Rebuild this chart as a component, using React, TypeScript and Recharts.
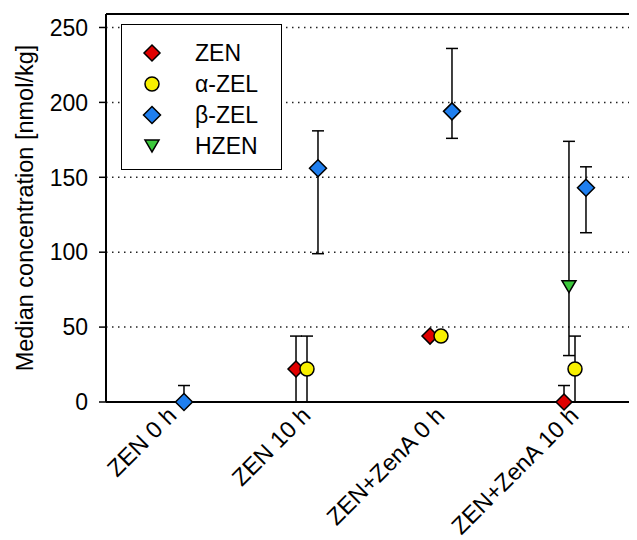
import React from "react";
import {
    ScatterChart,
    Scatter,
    XAxis,
    YAxis,
    CartesianGrid,
    ErrorBar,
    Legend,
    ReferenceLine,
    Label,
} from "recharts";

const categories = ["ZEN 0 h", "ZEN 10 h", "ZEN+ZenA 0 h", "ZEN+ZenA 10 h"];
const yTicks = [0, 50, 100, 150, 200, 250];

// medians and the low / high end of each error bar, nmol/kg
const zenMedian = [null, 22, 44, 0];
const zenLow = [null, 0, 44, 0];
const zenHigh = [null, 44, 44, 11];

const alphaZelMedian = [null, 22, 44, 22];
const alphaZelLow = [null, 0, 44, 0];
const alphaZelHigh = [null, 44, 44, 44];

const betaZelMedian = [0, 156, 194, 143];
const betaZelLow = [0, 99, 176, 113];
const betaZelHigh = [11, 181, 236, 157];

const hzenMedian = [null, null, null, 77];
const hzenLow = [null, null, null, 31];
const hzenHigh = [null, null, null, 174];

const FONT = "'Liberation Sans', Arial, sans-serif";

const toPoints = (median: (number | null)[], low: (number | null)[], high: (number | null)[], offset: number) =>
    median
        .map((v, i) =>
            v == null
                ? null
                : { x: i + offset, y: v, err: [v - (low[i] as number), (high[i] as number) - v] }
        )
        .filter(Boolean);

const diamond = (r: number) => (props: any) => {
    const { cx, cy, fill } = props;
    return (
        <path
            d={`M${cx},${cy - r}L${cx + r},${cy}L${cx},${cy + r}L${cx - r},${cy}Z`}
            fill={fill}
            stroke="#000"
            strokeWidth={1.5}
        />
    );
};

const circle = (r: number) => (props: any) => (
    <circle cx={props.cx} cy={props.cy} r={r} fill={props.fill} stroke="#000" strokeWidth={1.5} />
);

const triangleDown = (w: number) => (props: any) => {
    const { cx, cy, fill } = props;
    const h = w * 0.85;
    return (
        <path
            d={`M${cx - w / 2},${cy - h / 2}L${cx + w / 2},${cy - h / 2}L${cx},${cy + h / 2}Z`}
            fill={fill}
            stroke="#000"
            strokeWidth={1.5}
        />
    );
};

const series = [
    { name: "ZEN", color: "#e00000", shape: diamond(8), data: toPoints(zenMedian, zenLow, zenHigh, -0.082) },
    { name: "\u03b1-ZEL", color: "#f8f000", shape: circle(7), data: toPoints(alphaZelMedian, alphaZelLow, alphaZelHigh, 0) },
    { name: "\u03b2-ZEL", color: "#1f7fef", shape: diamond(8.5), data: toPoints(betaZelMedian, betaZelLow, betaZelHigh, 0.082) },
    { name: "HZEN", color: "#3cc83c", shape: triangleDown(14), data: toPoints(hzenMedian, hzenLow, hzenHigh, -0.045) },
];

const LegendBox = () => (
    <div style={{ width: 161, height: 146, border: "1px solid #000", background: "#fff", boxSizing: "border-box" }}>
        <svg width={159} height={144}>
            {series.map((s, i) => {
                const cy = 28 + i * 31;
                return (
                    <g key={s.name}>
                        {s.shape({ cx: 30, cy, fill: s.color })}
                        <text x={73} y={cy + 8} fontSize={23} fontFamily={FONT} fill="#000">
                            {s.name}
                        </text>
                    </g>
                );
            })}
        </svg>
    </div>
);

const CategoryTick = (props: any) => {
    const { x, y, payload } = props;
    const tx = x + 5;
    const ty = y + 15;
    return (
        <text
            x={tx}
            y={ty}
            transform={`rotate(-45, ${tx}, ${ty})`}
            textAnchor="end"
            fontSize={23.5}
            fontFamily={FONT}
            fill="#000"
        >
            {categories[payload.value]}
        </text>
    );
};

const ValueTick = (props: any) => {
    const { y, payload } = props;
    return (
        <text x={88} y={y} dy="0.36em" textAnchor="end" fontSize={23} fontFamily={FONT} fill="#000">
            {payload.value}
        </text>
    );
};

export default function App() {
    return (
        <div style={{ width: 637, height: 540, overflow: "hidden", margin: "-8px 0 0 -8px", fontFamily: FONT }}>
            <ScatterChart width={646} height={540} margin={{ top: 14, right: 4, bottom: 0, left: 46 }}>
                <CartesianGrid
                    vertical={false}
                    stroke="#222"
                    strokeWidth={1.5}
                    strokeDasharray="1.5 4.5"
                />
                <XAxis
                    type="number"
                    dataKey="x"
                    domain={[-0.5, 3.5]}
                    ticks={[0, 1, 2, 3]}
                    height={138}
                    axisLine={{ stroke: "#000", strokeWidth: 2 }}
                    tickLine={false}
                    tickSize={0}
                    tickMargin={0}
                    tick={<CategoryTick />}
                    interval={0}
                />
                <YAxis
                    type="number"
                    dataKey="y"
                    domain={[0, 259]}
                    ticks={yTicks}
                    width={60}
                    axisLine={{ stroke: "#000", strokeWidth: 2 }}
                    tickLine={{ stroke: "#000", strokeWidth: 1.5 }}
                    tickSize={7}
                    tick={<ValueTick />}
                    interval={0}
                >
                    <Label
                        content={() => (
                            <text
                                x={33}
                                y={208}
                                transform="rotate(-90, 33, 208)"
                                textAnchor="middle"
                                fontSize={23.5}
                                fontFamily={FONT}
                                fill="#000"
                            >
                                Median concentration [nmol/kg]
                            </text>
                        )}
                    />
                </YAxis>
                <ReferenceLine y={259} stroke="#000" strokeWidth={2} />
                <Legend
                    layout="horizontal"
                    verticalAlign="middle"
                    align="center"
                    content={() => <LegendBox />}
                    wrapperStyle={{ left: 121, top: 24, width: 161, height: 146 }}
                />
                {series.map((s) => (
                    <Scatter
                        key={s.name}
                        name={s.name}
                        data={s.data as any[]}
                        fill={s.color}
                        shape={s.shape}
                        isAnimationActive={false}
                    >
                        <ErrorBar
                            dataKey="err"
                            direction="y"
                            width={6}
                            stroke="#000"
                            strokeWidth={1.5}
                            isAnimationActive={false}
                        />
                    </Scatter>
                ))}
            </ScatterChart>
        </div>
    );
}
